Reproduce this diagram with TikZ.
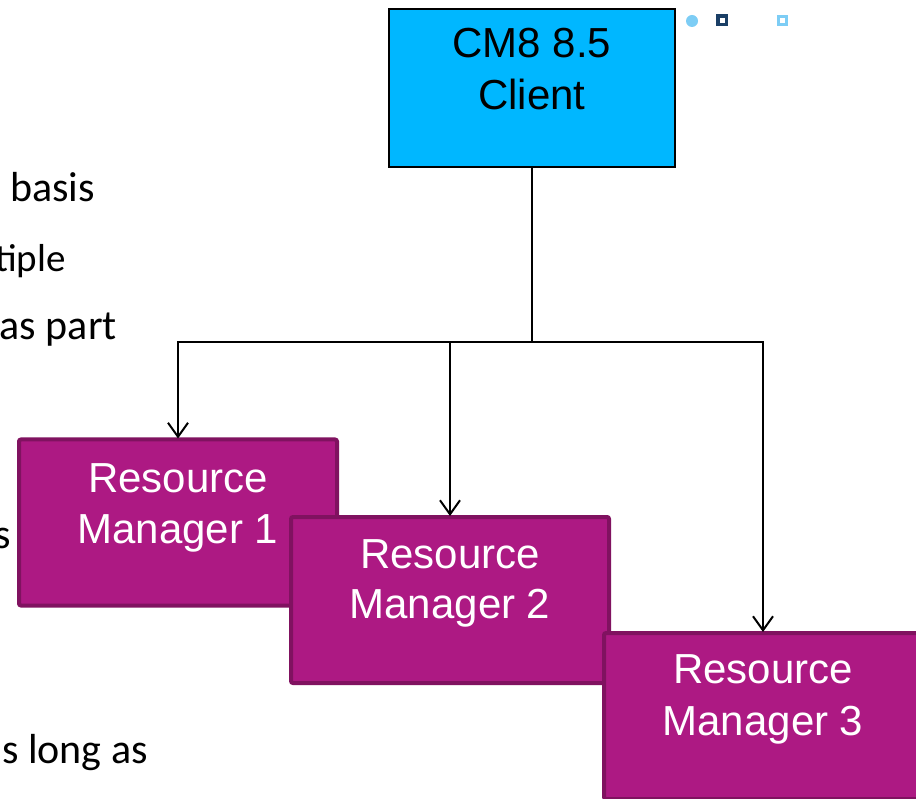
\documentclass[tikz,border=0pt]{standalone}
\usepackage{fontspec}
\setmainfont{Liberation Sans}
\newfontfamily\bodyfont{Carlito}
\usetikzlibrary{arrows.meta}
\definecolor{clientblue}{RGB}{0,183,255}
\definecolor{rmfill}{RGB}{173,25,131}
\definecolor{rmborder}{RGB}{128,18,96}
\definecolor{dotlight}{RGB}{125,205,245}
\definecolor{dotdark}{RGB}{27,63,102}
\tikzset{
  clientbox/.style={draw=black, line width=2pt, fill=clientblue, minimum width=286pt, minimum height=158pt, inner sep=0pt},
  rmbox/.style={draw=rmborder, line width=4pt, fill=rmfill, rounded corners=2pt, minimum width=318pt, minimum height=166pt, inner sep=0pt},
  boxtext/.style={anchor=base, inner sep=0pt, font=\fontsize{42}{50}\selectfont},
  rmtext/.style={boxtext, text=white},
  bodytext/.style={anchor=base east, inner sep=0pt, font=\bodyfont\fontsize{42}{50}\selectfont},
  conn/.style={draw=black, line width=2pt},
  arr/.style={conn, -{Straight Barb[length=14pt,width=20pt,line width=2pt]}}
}
\begin{document}
\begin{tikzpicture}[x=1pt,y=-1pt]
\useasboundingbox (0,0) rectangle (916,799);
\clip (0,0) rectangle (916,799);
% left clipped text
\node[bodytext] (t1) at (95,202) {basis};
\node[bodytext, font=\bodyfont\fontsize{39}{47}\selectfont] (t2) at (66,272) {tiple};
\node[bodytext] (t3) at (117,340) {as part};
\node[bodytext] (t4) at (11,548) {s};
\node[bodytext] (t5) at (148,763) {s long as};
% decorations top right
\node[circle, fill=dotlight, minimum size=12pt, inner sep=0pt] (d1) at (692,21) {};
\node[draw=dotdark, line width=3.5pt, fill=white, minimum size=8.5pt, inner sep=0pt] (d2) at (722,20.5) {};
\node[draw=dotlight, line width=3pt, fill=white, minimum size=8pt, inner sep=0pt] (d3) at (782.5,20.5) {};
% client
\node[clientbox] (client) at (532,88) {};
\node[boxtext] (ctext1) at (532,58) {CM8 8.5};
\node[boxtext] (ctext2) at (532,110) {Client};
% junction
\coordinate (j) at (532,342);
\draw[conn, line width=2.5pt] (client.south) -- (j);
% resource managers
\node[rmbox] (rm1) at (178,522.5) {};
\node[rmtext] (r1a) at (178,493) {Resource};
\node[rmtext] (r1b) at (178,543) {Manager 1};
\node[rmbox] (rm2) at (450,600) {};
\node[rmtext] (r2a) at (450,568) {Resource};
\node[rmtext] (r2b) at (450,618) {Manager 2};
\node[rmbox] (rm3) at (763,716) {};
\node[rmtext] (r3a) at (763,683) {Resource};
\node[rmtext] (r3b) at (763,735) {Manager 3};
% connectors
\draw[arr] (j) -| ([yshift=-1pt]rm1.north);
\draw[arr] (j) -| ([yshift=-1pt]rm2.north);
\draw[arr] (j) -| ([yshift=-1pt]rm3.north);
\end{tikzpicture}
\end{document}
